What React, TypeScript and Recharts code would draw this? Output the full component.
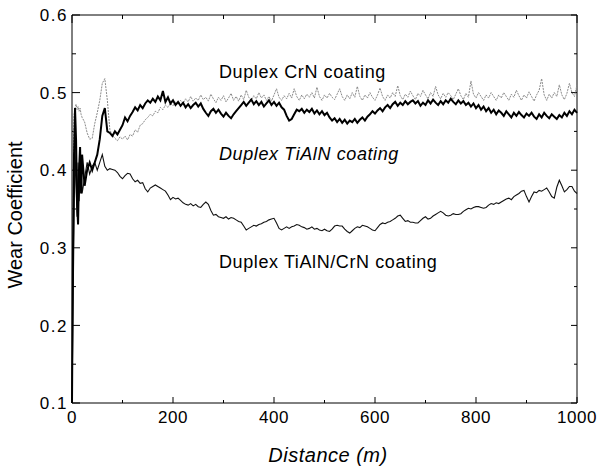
import { LineChart, Line, XAxis, YAxis, ReferenceLine, ReferenceArea } from 'recharts';

// sampling positions (m): dense at the start, then every 5 m
const earlyDistance = [0, 2, 4, 6, 8, 10, 12, 14, 16, 18, 20];
const distance = [...earlyDistance, ...Array.from({ length: 196 }, (_, i) => 25 + i * 5)];

// Duplex CrN coating (grey dotted trace)
const crnWear = [
    0.10, 0.35, 0.47, 0.48, 0.485, 0.478, 0.482, 0.476, 0.48, 0.472, 0.468,
    0.462, 0.448, 0.44, 0.441, 0.46, 0.474, 0.49, 0.512, 0.518, 0.49,
    0.452, 0.445, 0.441, 0.438, 0.443, 0.44, 0.444, 0.439, 0.446, 0.444,
    0.452, 0.449, 0.458, 0.46, 0.465, 0.468, 0.472, 0.47, 0.476, 0.474,
    0.481, 0.478, 0.484, 0.481, 0.486, 0.483, 0.488, 0.485, 0.49, 0.486,
    0.492, 0.488, 0.495, 0.489, 0.493, 0.49, 0.497, 0.491, 0.494, 0.489,
    0.498, 0.492, 0.487, 0.494, 0.49, 0.496, 0.488, 0.493, 0.499, 0.49,
    0.495, 0.489, 0.497, 0.491, 0.503, 0.494, 0.49, 0.496, 0.492, 0.5,
    0.493, 0.497, 0.49, 0.495, 0.489, 0.497, 0.505, 0.494, 0.49, 0.496,
    0.492, 0.499, 0.493, 0.505, 0.495, 0.49, 0.497, 0.492, 0.498, 0.494,
    0.5, 0.493, 0.507, 0.495, 0.49, 0.497, 0.493, 0.499, 0.494, 0.491,
    0.498, 0.505, 0.495, 0.49, 0.497, 0.492, 0.5, 0.494, 0.508, 0.495,
    0.49, 0.497, 0.493, 0.5, 0.494, 0.49, 0.497, 0.506, 0.495, 0.49,
    0.497, 0.493, 0.5, 0.495, 0.509, 0.496, 0.491, 0.498, 0.494, 0.502,
    0.496, 0.491, 0.499, 0.495, 0.503, 0.497, 0.492, 0.5, 0.495, 0.508,
    0.497, 0.492, 0.499, 0.494, 0.5, 0.496, 0.491, 0.498, 0.505, 0.496,
    0.491, 0.499, 0.494, 0.515, 0.498, 0.493, 0.5, 0.495, 0.49, 0.497,
    0.493, 0.5, 0.495, 0.49, 0.497, 0.493, 0.5, 0.495, 0.49, 0.498,
    0.494, 0.503, 0.496, 0.49, 0.497, 0.493, 0.501, 0.495, 0.489, 0.497,
    0.503, 0.518, 0.497, 0.49, 0.498, 0.493, 0.5, 0.495, 0.51, 0.497,
    0.491, 0.499, 0.512, 0.5, 0.495, 0.51,
];

// Duplex TiAlN coating (thick black trace)
const tialnWear = [
    0.10, 0.30, 0.42, 0.48, 0.44, 0.36, 0.33, 0.40, 0.43, 0.37, 0.42,
    0.38, 0.40, 0.41, 0.40, 0.41, 0.42, 0.44, 0.47, 0.48, 0.45,
    0.448, 0.444, 0.45, 0.446, 0.452, 0.458, 0.468, 0.463, 0.47, 0.475,
    0.481, 0.477, 0.484, 0.48, 0.486, 0.49, 0.487, 0.492, 0.488, 0.495,
    0.49, 0.502, 0.488, 0.494, 0.486, 0.49, 0.484, 0.488, 0.483, 0.487,
    0.481, 0.485, 0.48, 0.484, 0.487, 0.482, 0.486, 0.479, 0.474, 0.47,
    0.476, 0.479, 0.474, 0.478, 0.473, 0.469, 0.474, 0.47, 0.467, 0.472,
    0.476, 0.48, 0.484, 0.488, 0.483, 0.487, 0.491, 0.485, 0.489, 0.484,
    0.488, 0.482, 0.486, 0.49, 0.484, 0.488, 0.483, 0.487, 0.481, 0.478,
    0.47, 0.464, 0.466, 0.472, 0.478, 0.476, 0.479, 0.474, 0.478, 0.475,
    0.479, 0.473, 0.477, 0.472, 0.476, 0.471, 0.474, 0.468, 0.464, 0.467,
    0.462, 0.466, 0.461, 0.465, 0.46, 0.464, 0.462, 0.466, 0.461, 0.465,
    0.468, 0.464, 0.469, 0.472, 0.476, 0.473, 0.477, 0.48, 0.476, 0.481,
    0.484, 0.48, 0.485, 0.488, 0.483, 0.487, 0.484, 0.489, 0.485, 0.488,
    0.49, 0.486, 0.489, 0.483, 0.487, 0.484, 0.49, 0.486, 0.491, 0.487,
    0.484, 0.489, 0.485, 0.49, 0.487, 0.492, 0.488, 0.485, 0.49, 0.486,
    0.489, 0.484, 0.487, 0.482, 0.486, 0.48, 0.484, 0.478, 0.482, 0.476,
    0.48, 0.474, 0.478, 0.472, 0.477, 0.474, 0.47, 0.476, 0.472, 0.468,
    0.474, 0.47, 0.475, 0.471, 0.468, 0.473, 0.47, 0.474, 0.469, 0.466,
    0.472, 0.468, 0.474, 0.47, 0.467, 0.472, 0.469, 0.466, 0.471, 0.468,
    0.474, 0.47, 0.476, 0.472, 0.478, 0.474,
];

// Duplex TiAlN/CrN coating (thin black trace)
const multiWear = [
    0.10, 0.22, 0.33, 0.43, 0.38, 0.34, 0.41, 0.36, 0.39, 0.42, 0.37,
    0.39, 0.41, 0.395, 0.405, 0.41, 0.40, 0.41, 0.42, 0.405, 0.40,
    0.402, 0.401, 0.40, 0.397, 0.392, 0.389, 0.393, 0.396, 0.395, 0.389,
    0.385, 0.387, 0.383, 0.384, 0.376, 0.372, 0.377, 0.379, 0.381, 0.379,
    0.377, 0.375, 0.373, 0.368, 0.362, 0.365, 0.363, 0.364, 0.361, 0.358,
    0.356, 0.355, 0.357, 0.354, 0.356, 0.353, 0.352, 0.356, 0.359, 0.356,
    0.348, 0.342, 0.343, 0.34, 0.339, 0.338, 0.34, 0.337, 0.339, 0.338,
    0.336, 0.334, 0.333, 0.328, 0.323, 0.325, 0.327, 0.329, 0.328, 0.33,
    0.331, 0.333, 0.334, 0.336, 0.337, 0.338, 0.332, 0.325, 0.323, 0.325,
    0.327, 0.325, 0.327, 0.328, 0.33, 0.329, 0.327, 0.326, 0.324, 0.325,
    0.327, 0.324, 0.325, 0.323, 0.322, 0.324, 0.322, 0.321, 0.324, 0.328,
    0.329, 0.328, 0.328, 0.324, 0.321, 0.319, 0.322, 0.325, 0.327, 0.326,
    0.329, 0.328, 0.327, 0.325, 0.323, 0.322, 0.326, 0.33, 0.332, 0.331,
    0.333, 0.334, 0.336, 0.338, 0.341, 0.342, 0.338, 0.334, 0.335, 0.333,
    0.333, 0.332, 0.332, 0.335, 0.338, 0.34, 0.337, 0.338, 0.341, 0.343,
    0.345, 0.347, 0.345, 0.342, 0.341, 0.342, 0.344, 0.343, 0.343, 0.344,
    0.347, 0.349, 0.351, 0.35, 0.352, 0.353, 0.353, 0.352, 0.351, 0.352,
    0.355, 0.357, 0.356, 0.358, 0.357, 0.359, 0.361, 0.363, 0.364, 0.362,
    0.366, 0.368, 0.37, 0.373, 0.374, 0.366, 0.359, 0.366, 0.372, 0.371,
    0.374, 0.373, 0.375, 0.377, 0.372, 0.366, 0.364, 0.378, 0.387, 0.38,
    0.372, 0.375, 0.379, 0.379, 0.373, 0.37,
];

const xTicks = [0, 100, 200, 300, 400, 500, 600, 700, 800, 900, 1000];
const yTicks = [0.1, 0.15, 0.2, 0.25, 0.3, 0.35, 0.4, 0.45, 0.5, 0.55, 0.6];

const chartData = distance.map((d, i) => ({
    distance: d,
    crn: crnWear[i],
    tialn: tialnWear[i],
    multi: multiWear[i],
}));

const W = 599;
const H = 468;
const MARGIN = { top: 15, right: 22, left: 0, bottom: 0 };
const Y_AXIS_W = 72;
const X_AXIS_H = 65;
const X_DOMAIN: [number, number] = [0, 1000];
const Y_DOMAIN: [number, number] = [0.1, 0.6];
const FONT = '"Liberation Sans", Arial, Helvetica, sans-serif';

// pixel -> data unit helpers for the inward tick marks
const PLOT_W = W - MARGIN.left - MARGIN.right - Y_AXIS_W;
const PLOT_H = H - MARGIN.top - MARGIN.bottom - X_AXIS_H;
const pxX = (px: number) => (px * (X_DOMAIN[1] - X_DOMAIN[0])) / PLOT_W;
const pxY = (px: number) => (px * (Y_DOMAIN[1] - Y_DOMAIN[0])) / PLOT_H;

const isMajorX = (v: number) => v % 200 === 0;
const isMajorY = (v: number) => Math.round(v * 100) % 10 === 0;

const bottomTick = ({ x, y, payload }: any) =>
    isMajorX(payload.value) ? (
        <text x={x} y={y + 8} dy="0.71em" textAnchor="middle" fontSize={17} letterSpacing={0.5} fill="#000" fontFamily={FONT}>
            {payload.value}
        </text>
    ) : <g />;

const leftTick = ({ x, y, payload }: any) =>
    isMajorY(payload.value) ? (
        <text x={x - 4} y={y} dy="0.36em" textAnchor="end" fontSize={17} letterSpacing={1.5} fill="#000" fontFamily={FONT}>
            {payload.value.toFixed(1)}
        </text>
    ) : <g />;

const tickStroke = { stroke: '#000', strokeWidth: 1, ifOverflow: 'visible' as const };

const labelStyle = { fontFamily: FONT, fontSize: 18, letterSpacing: 0.6, fill: '#000' };

export default function App() {
    return (
        <div style={{ position: 'absolute', left: 0, top: 0, width: W, height: H, background: '#fff' }}>
            <LineChart width={W} height={H} data={chartData} margin={MARGIN}>
                <XAxis
                    dataKey="distance"
                    type="number"
                    domain={X_DOMAIN}
                    ticks={xTicks}
                    height={X_AXIS_H}
                    axisLine={false}
                    tickLine={false}
                    tickSize={0}
                    tickMargin={0}
                    tick={bottomTick}
                    interval={0}
                />
                <YAxis
                    type="number"
                    domain={Y_DOMAIN}
                    ticks={yTicks}
                    width={Y_AXIS_W}
                    axisLine={false}
                    tickLine={false}
                    tickSize={0}
                    tickMargin={0}
                    tick={leftTick}
                    interval={0}
                />
                {/* plot frame */}
                <ReferenceArea x1={X_DOMAIN[0]} x2={X_DOMAIN[1]} y1={Y_DOMAIN[0]} y2={Y_DOMAIN[1]} stroke="#000" strokeWidth={1} fill="none" ifOverflow="visible" />
                {/* inward ticks: bottom, top */}
                {xTicks.map((t) => (
                    <ReferenceLine
                        key={`b${t}`}
                        segment={[{ x: t, y: Y_DOMAIN[0] }, { x: t, y: Y_DOMAIN[0] + pxY(isMajorX(t) ? 6 : 3) }]}
                        {...tickStroke}
                    />
                ))}
                {xTicks.map((t) => (
                    <ReferenceLine
                        key={`t${t}`}
                        segment={[{ x: t, y: Y_DOMAIN[1] }, { x: t, y: Y_DOMAIN[1] - pxY(isMajorX(t) ? 8 : 4) }]}
                        {...tickStroke}
                    />
                ))}
                {/* inward ticks: left, right */}
                {yTicks.map((t) => (
                    <ReferenceLine
                        key={`l${t}`}
                        segment={[{ x: X_DOMAIN[0], y: t }, { x: X_DOMAIN[0] + pxX(isMajorY(t) ? 8 : 4), y: t }]}
                        {...tickStroke}
                    />
                ))}
                {yTicks.map((t) => (
                    <ReferenceLine
                        key={`r${t}`}
                        segment={[{ x: X_DOMAIN[1], y: t }, { x: X_DOMAIN[1] - pxX(isMajorY(t) ? 6 : 3), y: t }]}
                        {...tickStroke}
                    />
                ))}
                <Line
                    type="linear"
                    dataKey="crn"
                    stroke="#8a8a8a"
                    strokeWidth={1}
                    strokeDasharray="2 1"
                    dot={false}
                    isAnimationActive={false}
                />
                <Line
                    type="linear"
                    dataKey="multi"
                    stroke="#111"
                    strokeWidth={1.1}
                    dot={false}
                    isAnimationActive={false}
                />
                <Line
                    type="linear"
                    dataKey="tialn"
                    stroke="#000"
                    strokeWidth={2}
                    dot={false}
                    isAnimationActive={false}
                />
            </LineChart>
            <svg width={W} height={H} style={{ position: 'absolute', left: 0, top: 0, pointerEvents: 'none' }}>
                <text x={219} y={78} {...labelStyle}>Duplex CrN coating</text>
                <text x={219} y={160} {...labelStyle} fontStyle="italic">Duplex TiAlN coating</text>
                <text x={219} y={268} {...labelStyle}>Duplex TiAlN/CrN coating</text>
                <text
                    transform="translate(22, 215) rotate(-90)"
                    textAnchor="middle"
                    fontFamily={FONT}
                    fontSize={20}
                    fill="#000"
                >
                    Wear Coefficient
                </text>
                <text x={328} y={462} textAnchor="middle" fontFamily={FONT} fontSize={20} fontStyle="italic" letterSpacing={0.5} fill="#000">
                    Distance (m)
                </text>
            </svg>
        </div>
    );
}
